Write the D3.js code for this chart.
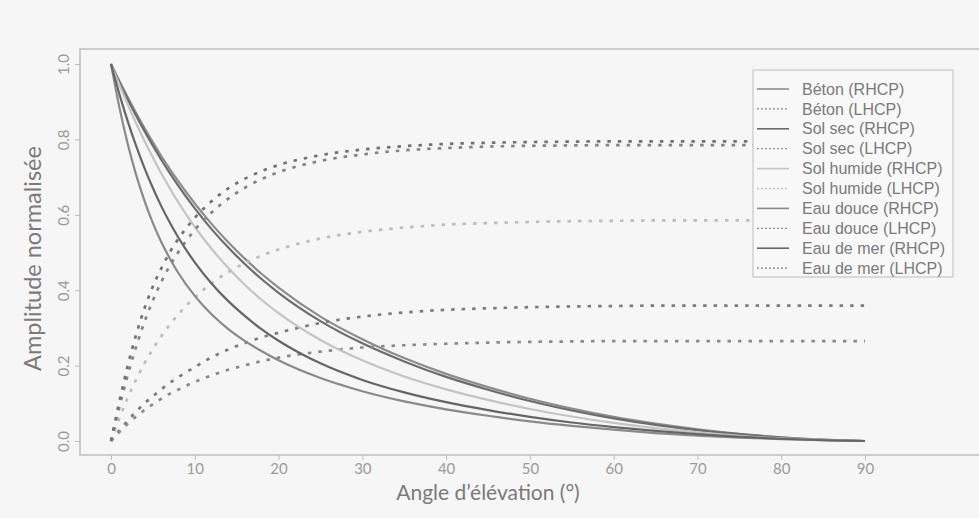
<!DOCTYPE html>
<html>
<head>
<meta charset="utf-8">
<script src="https://cdn.jsdelivr.net/npm/d3@7"></script>
<style>
  html, body { margin: 0; padding: 0; background: #f6f6f6; }
  svg { display: block; }
</style>
</head>
<body>
<svg id="chart" width="979" height="518"></svg>
<script>
// ---------- data ----------
const angles = [0, 1, 2, 3, 4, 5, 6, 7, 8, 10, 12, 14, 16, 18, 20, 25, 30, 35, 40, 45, 50, 55, 60, 65, 70, 75, 80, 85, 90];

const betonRHCP    = [1, 0.955, 0.912, 0.870, 0.830, 0.792, 0.756, 0.722, 0.690, 0.630, 0.576, 0.527, 0.483, 0.443, 0.407, 0.330, 0.270, 0.220, 0.178, 0.143, 0.112, 0.086, 0.064, 0.046, 0.031, 0.019, 0.010, 0.004, 0.000];
const betonLHCP    = [0, 0.028, 0.054, 0.078, 0.100, 0.119, 0.137, 0.154, 0.169, 0.196, 0.222, 0.243, 0.260, 0.275, 0.287, 0.313, 0.330, 0.341, 0.348, 0.352, 0.355, 0.357, 0.358, 0.359, 0.359, 0.359, 0.359, 0.359, 0.359];
const solSecRHCP   = [1, 0.952, 0.906, 0.863, 0.822, 0.783, 0.746, 0.711, 0.678, 0.617, 0.562, 0.513, 0.469, 0.429, 0.393, 0.318, 0.259, 0.211, 0.170, 0.136, 0.106, 0.081, 0.060, 0.043, 0.029, 0.018, 0.009, 0.003, 0.000];
const solSecLHCP   = [0, 0.024, 0.046, 0.065, 0.082, 0.098, 0.112, 0.125, 0.136, 0.157, 0.174, 0.189, 0.201, 0.212, 0.221, 0.237, 0.248, 0.254, 0.258, 0.261, 0.263, 0.264, 0.265, 0.265, 0.265, 0.265, 0.265, 0.265, 0.265];
const solHumRHCP   = [1, 0.945, 0.893, 0.843, 0.796, 0.752, 0.710, 0.671, 0.634, 0.568, 0.510, 0.459, 0.414, 0.374, 0.339, 0.268, 0.214, 0.171, 0.137, 0.109, 0.085, 0.065, 0.048, 0.034, 0.023, 0.014, 0.007, 0.003, 0.000];
const solHumLHCP   = [0, 0.060, 0.115, 0.163, 0.206, 0.244, 0.278, 0.308, 0.335, 0.381, 0.418, 0.448, 0.472, 0.492, 0.508, 0.537, 0.555, 0.566, 0.574, 0.578, 0.581, 0.583, 0.584, 0.585, 0.585, 0.585, 0.585, 0.585, 0.585];
const eauDouceRHCP = [1, 0.885, 0.788, 0.706, 0.637, 0.578, 0.528, 0.485, 0.447, 0.385, 0.336, 0.297, 0.265, 0.238, 0.214, 0.167, 0.132, 0.105, 0.084, 0.067, 0.052, 0.040, 0.030, 0.021, 0.014, 0.009, 0.005, 0.002, 0.000];
const eauDouceLHCP = [0, 0.090, 0.175, 0.250, 0.316, 0.373, 0.422, 0.464, 0.500, 0.560, 0.606, 0.643, 0.672, 0.695, 0.713, 0.743, 0.760, 0.771, 0.777, 0.781, 0.783, 0.784, 0.785, 0.785, 0.785, 0.785, 0.785, 0.785, 0.785];
const eauMerRHCP   = [1, 0.920, 0.848, 0.783, 0.724, 0.671, 0.623, 0.580, 0.541, 0.474, 0.418, 0.371, 0.331, 0.296, 0.266, 0.206, 0.162, 0.129, 0.103, 0.082, 0.064, 0.049, 0.037, 0.027, 0.018, 0.011, 0.006, 0.002, 0.000];
const eauMerLHCP   = [0, 0.105, 0.200, 0.282, 0.352, 0.410, 0.458, 0.500, 0.535, 0.592, 0.636, 0.670, 0.696, 0.716, 0.732, 0.758, 0.773, 0.782, 0.788, 0.791, 0.793, 0.794, 0.795, 0.795, 0.795, 0.795, 0.795, 0.795, 0.795];

const seriesNames = ["Béton (RHCP)", "Béton (LHCP)", "Sol sec (RHCP)", "Sol sec (LHCP)", "Sol humide (RHCP)", "Sol humide (LHCP)", "Eau douce (RHCP)", "Eau douce (LHCP)", "Eau de mer (RHCP)", "Eau de mer (LHCP)"];
const seriesValues = [betonRHCP, betonLHCP, solSecRHCP, solSecLHCP, solHumRHCP, solHumLHCP, eauDouceRHCP, eauDouceLHCP, eauMerRHCP, eauMerLHCP];
const seriesColors = ["#8c8c8c", "#7c7c7c", "#6c6c6c", "#8a8a8a", "#c4c4c4", "#bdbdbd", "#8a8a8a", "#848484", "#666666", "#727272"];
const xTicks = [0, 10, 20, 30, 40, 50, 60, 70, 80, 90];
const yTicks = [0, 0.2, 0.4, 0.6, 0.8, 1.0];
const xTitle = "Angle d’élévation (°)";
const yTitle = "Amplitude normalisée";

// ---------- layout ----------
const svg = d3.select("#chart");
const frame = { left: 80, top: 49, right: 990, bottom: 455 };
const x = d3.scaleLinear().domain([0, 90]).range([111, 865]);
const y = d3.scaleLinear().domain([0, 1]).range([441, 64]);

svg.append("rect").attr("x", 0).attr("y", 0).attr("width", 979).attr("height", 518).attr("fill", "#f6f6f6");

svg.append("defs").append("clipPath").attr("id", "clip")
  .append("rect").attr("x", frame.left).attr("y", frame.top)
  .attr("width", frame.right - frame.left).attr("height", frame.bottom - frame.top);

// axes
const xAxis = svg.append("g").attr("transform", `translate(0,${frame.bottom})`)
  .call(d3.axisBottom(x).tickValues(xTicks).tickSize(5).tickPadding(3).tickFormat(d3.format("d")));
xAxis.select(".domain").remove();
xAxis.selectAll(".tick line").attr("stroke", "#bdbdbd");
xAxis.selectAll(".tick text").attr("fill", "#9a9a9a").style("font-family", "Lato, 'Open Sans', sans-serif").style("font-size", "15px");

const yAxis = svg.append("g").attr("transform", `translate(${frame.left},0)`)
  .call(d3.axisLeft(y).tickValues(yTicks).tickSize(5).tickFormat(d3.format(".1f")));
yAxis.select(".domain").remove();
yAxis.selectAll(".tick line").attr("stroke", "#bdbdbd");
yAxis.selectAll(".tick text")
  .attr("fill", "#9a9a9a")
  .style("font-family", "Lato, 'Open Sans', sans-serif").style("font-size", "15px")
  .attr("transform", "rotate(-90)")
  .attr("x", 0).attr("y", -11).attr("dy", 0)
  .attr("text-anchor", "middle");

// frame
svg.append("rect").attr("x", frame.left).attr("y", frame.top)
  .attr("width", frame.right - frame.left).attr("height", frame.bottom - frame.top)
  .attr("fill", "none").attr("stroke", "#bfbfbf").attr("stroke-width", 1.5);

// curves
const line = d3.line().x((d, i) => x(angles[i])).y(d => y(d)).curve(d3.curveMonotoneX);
const plot = svg.append("g").attr("clip-path", "url(#clip)");
seriesValues.forEach((vals, k) => {
  const lhcp = k % 2 === 1;
  plot.append("path")
    .attr("d", line(vals))
    .attr("fill", "none")
    .attr("stroke", seriesColors[k])
    .attr("stroke-width", lhcp ? 2.7 : 2.2)
    .attr("stroke-dasharray", lhcp ? "3.5,7" : null);
});

// titles
svg.append("text").attr("x", (x(0) + x(90)) / 2).attr("y", 500)
  .attr("text-anchor", "middle").attr("fill", "#7a7a7a")
  .style("font-family", "Lato, 'Open Sans', sans-serif").style("font-size", "21px")
  .text(xTitle);
svg.append("text").attr("transform", `translate(41,${(y(0) + y(1)) / 2 + 6}) rotate(-90)`)
  .attr("text-anchor", "middle").attr("fill", "#7a7a7a")
  .style("font-family", "Lato, 'Open Sans', sans-serif").style("font-size", "23.5px")
  .text(yTitle);

// legend
const lg = { x: 753, y: 70, w: 200, h: 207, row: 19.9, first: 89 };
const legend = svg.append("g");
legend.append("rect").attr("x", lg.x).attr("y", lg.y).attr("width", lg.w).attr("height", lg.h)
  .attr("fill", "#f8f8f8").attr("stroke", "#bdbdbd").attr("stroke-width", 1);
seriesNames.forEach((name, k) => {
  const yy = lg.first + k * lg.row;
  const lhcp = k % 2 === 1;
  legend.append("line").attr("x1", lg.x + 4).attr("x2", lg.x + 36).attr("y1", yy).attr("y2", yy)
    .attr("stroke", seriesColors[k]).attr("stroke-width", lhcp ? 1.3 : 1.6)
    .attr("stroke-dasharray", lhcp ? "1.8,2.2" : null);
  legend.append("text").attr("x", lg.x + 49).attr("y", yy).attr("dy", "0.35em")
    .attr("fill", "#7a7a7a")
    .style("font-family", "'Liberation Sans', Arial, sans-serif").style("font-size", "16px")
    .text(name);
});
</script>
</body>
</html>
